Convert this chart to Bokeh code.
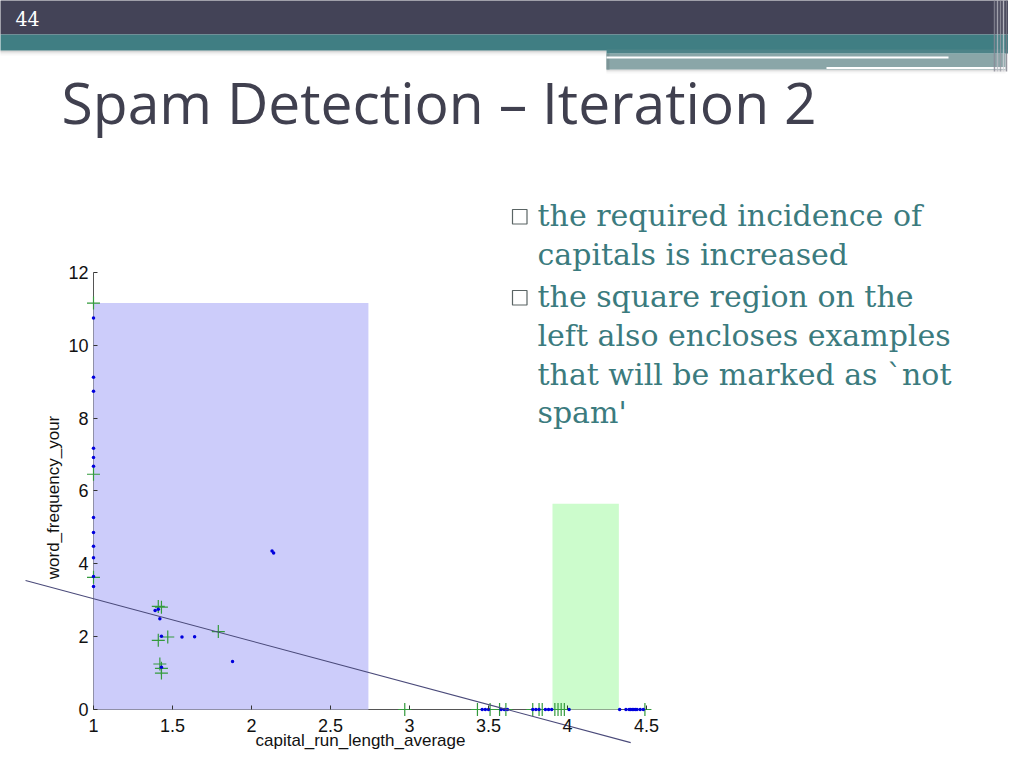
from math import pi
from bokeh.plotting import figure
from bokeh.models import Range1d, LinearAxis, FixedTicker, NumeralTickFormatter, BasicTickFormatter
from bokeh.core.properties import value
from bokeh.embed import file_html
from bokeh.resources import INLINE

# ---------------- data ----------------
slide_number = "44"
slide_title = "Spam Detection \u2013 Iteration 2"
bullet_1 = ["the required incidence of", "capitals is increased"]
bullet_2 = ["the square region on the", "left also encloses examples",
            "that will be marked as `not", "spam'"]

x_label = "capital_run_length_average"
y_label = "word_frequency_your"
x_ticks = [1, 1.5, 2, 2.5, 3, 3.5, 4, 4.5]
y_ticks = [0, 2, 4, 6, 8, 10, 12]

# class "not spam" (blue dots)
blue_x = [1.0, 1.0, 1.0, 1.0, 1.0, 1.0, 1.0, 1.0, 1.0, 1.0, 1.0, 1.0,
          1.39, 1.41, 1.42, 1.43, 1.56, 1.64, 1.88, 2.13, 2.14, 1.43,
          3.46, 3.48, 3.50, 3.58, 3.60, 3.62, 3.78, 3.80, 3.82, 3.86, 3.88, 3.90, 4.01,
          4.33, 4.37, 4.39, 4.40, 4.41, 4.42, 4.43, 4.44, 4.46, 4.48]
blue_y = [10.75, 9.12, 8.74, 7.17, 6.92, 6.68, 5.27, 4.86, 4.48, 4.17, 3.65, 3.38,
          2.72, 2.75, 2.49, 2.01, 1.99, 2.00, 1.32, 4.35, 4.30, 1.16,
          0, 0, 0, 0, 0, 0, 0, 0, 0, 0, 0, 0, 0,
          0, 0, 0, 0, 0, 0, 0, 0, 0, 0]

# class "spam" (green crosses)
green_x = [1.0, 1.0, 1.0, 1.41, 1.43, 1.41, 1.47, 1.79, 1.42, 1.43, 1.43,
           2.97, 3.43, 3.51, 3.57, 3.61, 3.78, 3.82, 3.84, 3.92, 3.94, 3.96, 3.98, 4.49]
green_y = [11.16, 6.46, 3.63, 2.83, 2.81, 1.90, 1.99, 2.14, 1.25, 1.13, 1.00,
           0, 0, 0, 0, 0, 0, 0, 0, 0, 0, 0, 0, 0]

# linear decision boundary
boundary_x = [0.57, 4.40]
boundary_y = [3.54, -0.91]

# rule regions
region_left = [1.0, 3.905]
region_right = [2.74, 4.325]
region_bottom = [0.0, 0.0]
region_top = [11.16, 5.65]

# ---------------- styles ----------------
region_colors = ["#ccccfa", "#ccfccc"]
blue_color = "#0000dd"
green_color = "#339a3c"
boundary_color = "#4a4a7a"
title_color = "#40404f"
body_color = "#3b7b7e"
dark_bar = "#434357"
teal = "#407e83"
teal_light = "#8aa6a8"

W, H = 1008, 752

# chart mapping (pixel positions of the axes in the slide)
px_x1, px_per_x = 93, 158.0
px_y0, px_per_y = 709, 36.42
cx_start = 1 - px_x1 / px_per_x
cx_end = cx_start + W / px_per_x
cy_start = -(H - px_y0) / px_per_y
cy_end = cy_start + H / px_per_y

p = figure(width=W, height=H, x_range=Range1d(0, W), y_range=Range1d(H, 0),
           x_axis_type=None, y_axis_type=None, min_border=0, title=None,
           toolbar_location=None, output_backend="svg",
           outline_line_color=None, background_fill_color="white")
p.extra_x_ranges = {"cx": Range1d(cx_start, cx_end)}
p.extra_y_ranges = {"cy": Range1d(cy_start, cy_end)}

# ---------------- slide header ----------------
p.quad(left=[-10], right=[W + 10], top=[-10], bottom=[34], fill_color=dark_bar, line_color=None)
for i, c in enumerate(["#b9b9b9", "#d2d2d2", "#e4e4e4", "#f0f0f0", "#f8f8f8"]):
    p.quad(left=[-10], right=[606], top=[50 + i], bottom=[51 + i], fill_color=c, line_color=None)
for i, c in enumerate(["#c9c9c9", "#dddddd", "#eeeeee", "#f7f7f7"]):
    p.quad(left=[606], right=[1005], top=[69 + i], bottom=[70 + i], fill_color=c, line_color=None)
p.quad(left=[606], right=[1005], top=[53], bottom=[69], fill_color=teal_light, line_color=None)
p.quad(left=[606], right=[609], top=[53], bottom=[69], fill_color="#7c9597", line_color=None)
p.quad(left=[-10], right=[W + 10], top=[34], bottom=[50], fill_color=teal, line_color=None)
p.quad(left=[606], right=[W + 10], top=[49], bottom=[53], fill_color="#4d8388", line_color=None)
p.quad(left=[606], right=[948], top=[56], bottom=[58], fill_color="white", line_color=None)
p.quad(left=[826], right=[1005], top=[66.5], bottom=[68.5], fill_color="white", line_color=None)
stripe_x = [994, 997, 1000, 1003, 1006]
stripe_c = ["#8a8a96", "#b8b8c0", "#9a9aa4", "#d0d0d6", "#7a7a86"]
for sx, sc in zip(stripe_x, stripe_c):
    p.segment(x0=[sx], y0=[-10], x1=[sx], y1=[71], line_color=sc, line_width=1.5, line_alpha=0.8)

p.text(x=[15], y=[18], text=[slide_number], text_color="white",
       text_font=value("DejaVu Serif Condensed"), text_font_size="21px",
       text_baseline="alphabetic", text_align="left")

p.text(x=[61], y=[101], text=[slide_title], text_color=title_color,
       text_font=value("Open Sans"), text_font_size="57px",
       text_baseline="alphabetic", text_align="left")

# ---------------- bullets ----------------
body_x = 537
line_gap = 38.6
first_base = [215, 296.3]
bullet_top = [209, 290]
for lines, base, btop in zip([bullet_1, bullet_2], first_base, bullet_top):
    ys = [base + i * line_gap for i in range(len(lines))]
    p.text(x=[body_x] * len(lines), y=ys, text=lines, text_color=body_color,
           text_font=value("DejaVu Serif"), text_font_size="30px",
           text_baseline="alphabetic", text_align="left")
    p.quad(left=[512], right=[526.5], top=[btop], bottom=[btop + 14.5],
           fill_color=None, line_color="#5a6464", line_width=1.2)

# ---------------- chart ----------------
# axis lines (drawn beneath the regions, as in the original)
p.segment(x0=[x_ticks[0], x_ticks[0]], y0=[y_ticks[0], y_ticks[0]],
          x1=[x_ticks[-1], x_ticks[0]], y1=[y_ticks[0], y_ticks[-1]],
          x_range_name="cx", y_range_name="cy", line_color="#555555", line_width=1)

p.quad(left=region_left, right=region_right, bottom=region_bottom, top=region_top,
       fill_color=region_colors, line_color=None, x_range_name="cx", y_range_name="cy")

p.scatter(x=green_x, y=green_y, marker="cross", size=13, line_color=green_color,
          line_width=1.2, x_range_name="cx", y_range_name="cy")
p.scatter(x=blue_x, y=blue_y, marker="circle", size=3.5, fill_color=blue_color,
          line_color=None, x_range_name="cx", y_range_name="cy")

p.line(x=boundary_x, y=boundary_y, line_color=boundary_color, line_width=1.1,
       x_range_name="cx", y_range_name="cy")

xaxis = LinearAxis(x_range_name="cx", y_range_name="cy", fixed_location=0,
                   ticker=FixedTicker(ticks=x_ticks),
                   formatter=NumeralTickFormatter(format="0.[0]"))
yaxis = LinearAxis(x_range_name="cx", y_range_name="cy", fixed_location=1,
                   ticker=FixedTicker(ticks=y_ticks), formatter=BasicTickFormatter())
for ax in (xaxis, yaxis):
    ax.axis_line_color = None
    ax.major_tick_in = 4
    ax.major_tick_out = 0
    ax.minor_tick_line_color = None
    ax.major_tick_line_color = "#333333"
    ax.major_label_text_font = "Liberation Sans"
    ax.major_label_text_font_size = "18px"
    ax.major_label_text_color = "#111111"
xaxis.major_label_standoff = 9
yaxis.major_label_standoff = 5
p.add_layout(xaxis, "below")
p.add_layout(yaxis, "left")

p.text(x=[360], y=[740], text=[x_label], text_color="#111111",
       text_font=value("Liberation Sans"), text_font_size="17px",
       text_baseline="alphabetic", text_align="center")
p.text(x=[52.5], y=[497], text=[y_label], text_color="#111111",
       text_font=value("Liberation Sans"), text_font_size="17px",
       text_baseline="middle", text_align="center", angle=pi / 2)

open("out.html", "w").write(file_html(p, INLINE))
